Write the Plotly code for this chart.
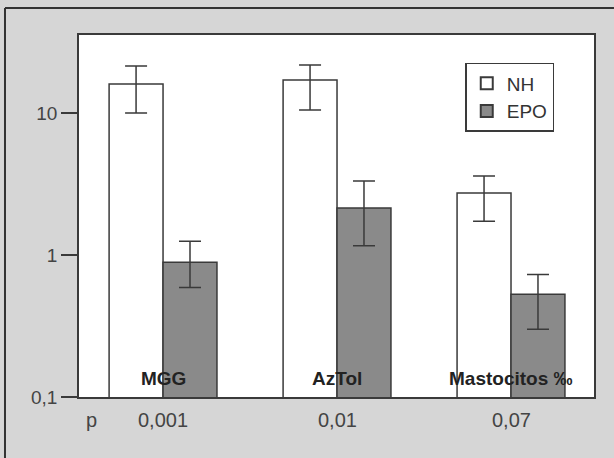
import plotly.graph_objects as go

categories = ["MGG", "AzTol", "Mastocitos ‰"]
nh_values = [16.0, 17.1, 2.73]
nh_err_plus = [5.4, 4.7, 0.87]
nh_err_minus = [6.0, 6.6, 1.0]
epo_values = [0.89, 2.14, 0.53]
epo_err_plus = [0.36, 1.18, 0.20]
epo_err_minus = [0.30, 0.98, 0.23]
p_label = "p"
p_values = ["0,001", "0,01", "0,07"]
y_tickvals = [0.1, 1, 10]
y_ticktext = ["0,1", "1", "10"]

xs = list(range(len(categories)))
line_col = "#3a3a3a"
font_fam = "Liberation Sans, Arial, sans-serif"

fig = go.Figure()
fig.add_trace(go.Bar(
    name="NH", x=xs, y=nh_values,
    marker=dict(color="white", line=dict(color=line_col, width=1.5)),
    error_y=dict(type="data", symmetric=False, array=nh_err_plus, arrayminus=nh_err_minus,
                 color=line_col, thickness=1.5, width=11),
))
fig.add_trace(go.Bar(
    name="EPO", x=xs, y=epo_values,
    marker=dict(color="#8a8a8a", line=dict(color=line_col, width=1.5)),
    error_y=dict(type="data", symmetric=False, array=epo_err_plus, arrayminus=epo_err_minus,
                 color=line_col, thickness=1.5, width=11),
))

annotations = []
for i, c in enumerate(categories):
    annotations.append(dict(x=i, y=0.052, xref="x", yref="paper", text="<b>%s</b>" % c,
                            xanchor="center", yanchor="middle",
                            showarrow=False, font=dict(size=19, color="#222", family=font_fam)))
    annotations.append(dict(x=i, y=-0.0635, xref="x", yref="paper", text=p_values[i],
                            xanchor="center", yanchor="middle",
                            showarrow=False, font=dict(size=20, color="#444", family=font_fam)))
annotations.append(dict(x=-0.414, y=-0.0635, xref="x", yref="paper", text=p_label,
                        xanchor="center", yanchor="middle",
                        showarrow=False, font=dict(size=20, color="#444", family=font_fam)))

fig.update_layout(
    width=614, height=458,
    margin=dict(l=79, r=20, t=35, b=61),
    paper_bgcolor="#d6d6d6",
    plot_bgcolor="white",
    barmode="group",
    bargap=0.38,
    bargroupgap=0,
    showlegend=True,
    legend=dict(x=0.75, y=0.923, xanchor="left", yanchor="top",
                bgcolor="white", bordercolor=line_col, borderwidth=1.5,
                font=dict(size=19, color="#333", family=font_fam),
                itemsizing="constant", tracegroupgap=4,
                entrywidth=64, entrywidthmode="pixels"),
    xaxis=dict(range=[-0.483, 2.477], showticklabels=False, ticks="",
               showline=True, linecolor=line_col, linewidth=1.5, mirror=True,
               showgrid=False, zeroline=False),
    yaxis=dict(type="log", range=[-1, 1.549], tickvals=y_tickvals, ticktext=y_ticktext,
               ticks="outside", ticklen=16, tickwidth=1.5, tickcolor=line_col,
               showline=True, linecolor=line_col, linewidth=1.5, mirror=True,
               showgrid=False, zeroline=False,
               tickfont=dict(size=19, color="#444", family=font_fam)),
    annotations=annotations,
    font=dict(family=font_fam),
    shapes=[
        dict(type="line", xref="paper", yref="paper",
             x0=-0.1437, x1=1.0388, y0=1.0746, y1=1.0746,
             line=dict(color="#333", width=2), layer="below"),
        dict(type="line", xref="paper", yref="paper",
             x0=-0.1437, x1=-0.1437, y0=1.0746, y1=-0.1685,
             line=dict(color="#333", width=2), layer="below"),
    ],
)

fig.write_html("out.html", config={"displayModeBar": False},
               post_script="document.body.style.margin='0';document.body.style.background='#d6d6d6';")
